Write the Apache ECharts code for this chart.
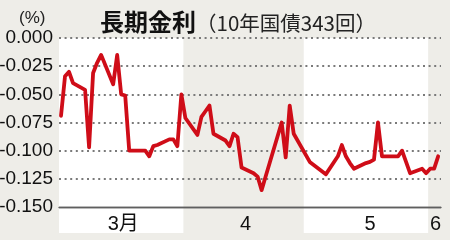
<!DOCTYPE html>
<html><head><meta charset="utf-8">
<script src="https://cdn.jsdelivr.net/npm/echarts@6/dist/echarts.min.js"></script>
<style>html,body{margin:0;padding:0;background:#eeede8;}#c{width:450px;height:240px;}</style>
</head><body><div id="c"></div>
<script>
const dates = [
 '2016-03-01','2016-03-02','2016-03-03','2016-03-04','2016-03-07','2016-03-08','2016-03-09','2016-03-10','2016-03-11',
 '2016-03-14','2016-03-15','2016-03-16','2016-03-17','2016-03-18','2016-03-22','2016-03-23','2016-03-24','2016-03-25',
 '2016-03-28','2016-03-29','2016-03-30','2016-03-31',
 '2016-04-01','2016-04-04','2016-04-05','2016-04-06','2016-04-07','2016-04-08','2016-04-11','2016-04-12','2016-04-13',
 '2016-04-14','2016-04-15','2016-04-18','2016-04-19','2016-04-20','2016-04-21','2016-04-22','2016-04-25','2016-04-26',
 '2016-04-27','2016-04-28',
 '2016-05-02','2016-05-06','2016-05-09','2016-05-10','2016-05-11','2016-05-12','2016-05-13','2016-05-16','2016-05-17',
 '2016-05-18','2016-05-19','2016-05-20','2016-05-23','2016-05-24','2016-05-25','2016-05-26','2016-05-27','2016-05-30',
 '2016-05-31','2016-06-01','2016-06-02','2016-06-03'
];
const yields = [
 -0.069,-0.034,-0.030,-0.040,-0.046,-0.097,-0.031,-0.022,-0.015,
 -0.041,-0.015,-0.050,-0.051,-0.100,-0.100,-0.105,-0.096,-0.095,
 -0.090,-0.090,-0.096,-0.050,
 -0.071,-0.086,-0.070,-0.065,-0.060,-0.085,-0.091,-0.096,-0.085,
 -0.088,-0.115,-0.120,-0.123,-0.135,-0.123,-0.111,-0.075,-0.106,
 -0.060,-0.085,
 -0.110,-0.121,-0.105,-0.095,-0.105,-0.111,-0.116,-0.111,-0.110,
 -0.108,-0.075,-0.105,-0.105,-0.105,-0.100,-0.110,-0.120,-0.116,
 -0.120,-0.116,-0.116,-0.105
];
const monthLabels = ['3月','4','5','6'];
const monthLabelDates = ['2016-03-16T12:00:00','2016-04-16T00:00:00','2016-05-17T00:00:00','2016-06-02T08:00:00'];
const whiteBands = [['2016-02-29T12:00:00','2016-03-31T12:00:00'],['2016-04-30T12:00:00','2016-05-31T12:00:00']];
const gridValues = [0, -0.025, -0.05, -0.075, -0.1, -0.125];
const baseValue = -0.15;
const xMin = '2016-02-29T12:00:00', xMax = '2016-06-03T17:00:00';

const t = s => new Date(s.length === 10 ? s + 'T00:00:00' : s).getTime();
const labelVals = monthLabelDates.map(t);
const chart = echarts.init(document.getElementById('c'), null, {renderer:'canvas'});
const font = "Liberation Sans";
const bandData = whiteBands.map(b => [{xAxis:t(b[0])},{xAxis:t(b[1])}]);
const seriesData = dates.map((d,i)=>[t(d), yields[i]]);
chart.setOption({
  backgroundColor:'#eeede8',
  animation:false,
  title:[
    {text:'(%)', left:14, top:5, textStyle:{fontFamily:font, fontSize:17, fontWeight:'normal', color:'#222'}},
    {text:'{a|長期金利}{b|（10年国債343回）}', left:95, top:5,
     textStyle:{rich:{
       a:{fontFamily:"'Noto Sans CJK JP',sans-serif", fontSize:24, fontWeight:'bold', color:'#111'},
       b:{fontFamily:"'Noto Sans CJK JP',sans-serif", fontSize:20.5, fontWeight:'normal', color:'#222', padding:[2,0,0,0]}
     }}}
  ],
  grid:[
    {left:59, right:9, top:38, bottom:33, outerBoundsMode:'none', containLabel:false},
    {left:59, right:9, top:208, height:25, outerBoundsMode:'none', containLabel:false}
  ],
  xAxis:[
    {type:'value', gridIndex:0, min:t(xMin), max:t(xMax), z:10,
     axisLine:{show:true, onZero:false, lineStyle:{color:'#5f5f5f', width:1.4}},
     axisTick:{show:false}, splitLine:{show:false},
     axisLabel:{customValues:labelVals, margin:7, fontFamily:"'Liberation Sans','Noto Sans CJK JP'", fontSize:20, color:'#111',
       formatter:(v)=>{const i=labelVals.indexOf(v); return i>=0?monthLabels[i]:'';}}},
    {type:'value', gridIndex:1, min:t(xMin), max:t(xMax), show:false}
  ],
  yAxis:[
    {type:'value', gridIndex:0, min:-0.15, max:0, interval:0.025,
     axisLine:{show:false}, axisTick:{show:false},
     axisLabel:{margin:6, fontFamily:font, fontSize:19, color:'#111', formatter:v=>v.toFixed(3)},
     splitLine:{show:false}},
    {type:'value', gridIndex:1, min:0, max:1, show:false}
  ],
  series:[
    {type:'line', xAxisIndex:1, yAxisIndex:1, data:[], silent:true, z:1,
     markArea:{silent:true, itemStyle:{color:'#ffffff'}, data:bandData}},
    {type:'line', xAxisIndex:0, yAxisIndex:0, data:[], silent:true, z:1,
     markArea:{silent:true, itemStyle:{color:'#ffffff'}, data:bandData}},
    {type:'line', xAxisIndex:0, yAxisIndex:0, z:3, silent:true, symbol:'none',
     data:seriesData, lineStyle:{opacity:0, width:0},
     markLine:{silent:true, symbol:['none','none'], label:{show:false}, precision:3,
       data:gridValues.map(v=>({yAxis:v, lineStyle:{color:'#7a7a7a', width:2, type:[2,3.6]}}))
         .concat([{yAxis:baseValue, lineStyle:{color:'#5f5f5f', width:1.4, type:'solid'}}])}},
    {type:'line', xAxisIndex:0, yAxisIndex:0, z:5, silent:true,
     data:seriesData,
     symbol:'none', lineStyle:{color:'#cf0d18', width:3.8, join:'round', cap:'round'}}
  ]
});
</script></body></html>
